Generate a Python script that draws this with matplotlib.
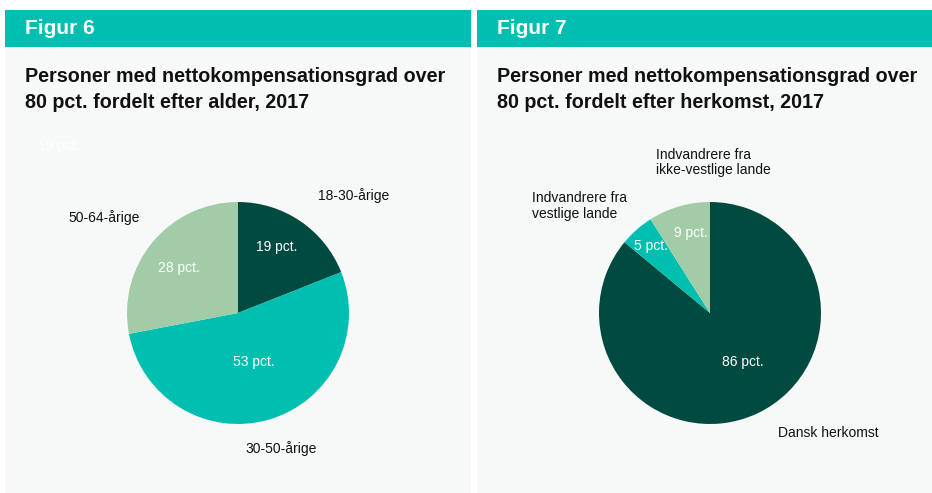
import matplotlib
matplotlib.use("Agg")
import matplotlib.pyplot as plt
from matplotlib.patches import Rectangle

plt.rcParams['font.family'] = ['Liberation Sans', 'DejaVu Sans']

# Data
age_labels = ["18-30-årige", "30-50-årige", "50-64-årige"]
age_values = [19, 53, 28]
origin_labels = ["Dansk herkomst", "Indvandrere fra\nvestlige lande", "Indvandrere fra\nikke-vestlige lande"]
origin_values = [86, 5, 9]
headers = ["Figur 6", "Figur 7"]
titles = ["Personer med nettokompensationsgrad over\n80 pct. fordelt efter alder, 2017",
          "Personer med nettokompensationsgrad over\n80 pct. fordelt efter herkomst, 2017"]

DARK = "#004A40"
TEAL = "#00BFB0"
LIGHT = "#A2CCA7"
BG = "#F7F9F8"

W, H = 932, 493
fig = plt.figure(figsize=(W / 100, H / 100), dpi=100)
fig.patch.set_facecolor("white")
ax = fig.add_axes([0, 0, 1, 1])

def Y(y):  # image y (top-down) -> data y
    return H - y

# Panels
for x0, x1, hdr, ttl in [(5, 471, headers[0], titles[0]), (477, 932, headers[1], titles[1])]:
    ax.add_patch(Rectangle((x0, 0), x1 - x0, Y(47), facecolor=BG, edgecolor="none", zorder=0))
    ax.add_patch(Rectangle((x0, Y(47)), x1 - x0, 37, facecolor=TEAL, edgecolor="none", zorder=0))
    ax.text(x0 + 20, Y(28.5), hdr, color="white", fontsize=15, fontweight="bold",
            ha="left", va="center")
    for i, line in enumerate(ttl.split("\n")):
        ax.text(x0 + 20, Y(82.5 + 25.5 * i), line, color="#111111", fontsize=14.2,
                fontweight="bold", ha="left", va="baseline")

colors = [DARK, TEAL, LIGHT]
R = 111

# Left pie
ax.pie(age_values, colors=colors, startangle=90, counterclock=False,
       center=(238, Y(313)), radius=R, frame=True,
       wedgeprops=dict(linewidth=0))
# Right pie
ax.pie(origin_values, colors=colors, startangle=90, counterclock=False,
       center=(710, Y(313)), radius=R, frame=True,
       wedgeprops=dict(linewidth=0))

ax.set_xlim(0, W)
ax.set_ylim(0, H)
ax.set_aspect("auto")
ax.axis("off")

fs = 10
# Left labels
ax.text(318, Y(196), age_labels[0], fontsize=fs, color="#111111", ha="left", va="center")
ax.text(245, Y(449), age_labels[1], fontsize=fs, color="#111111", ha="left", va="center")
ax.text(68, Y(218), age_labels[2], fontsize=fs, color="#111111", ha="left", va="center")
ax.text(277, Y(247), f"{age_values[0]} pct.", fontsize=fs, color="white", ha="center", va="center")
ax.text(254, Y(362), f"{age_values[1]} pct.", fontsize=fs, color="white", ha="center", va="center")
ax.text(179, Y(268), f"{age_values[2]} pct.", fontsize=fs, color="white", ha="center", va="center")
ax.text(38, Y(146), f"{age_values[0]} pct.", fontsize=fs, color="white", ha="left", va="center")

# Right labels
ax.text(778, Y(433), origin_labels[0], fontsize=fs, color="#111111", ha="left", va="center")
ax.text(532, Y(206), origin_labels[1], fontsize=fs, color="#111111", ha="left", va="center",
        linespacing=1.15)
ax.text(656, Y(162.5), origin_labels[2], fontsize=fs, color="#111111", ha="left", va="center",
        linespacing=1.15)
ax.text(743, Y(362), f"{origin_values[0]} pct.", fontsize=fs, color="white", ha="center", va="center")
ax.text(651, Y(246), f"{origin_values[1]} pct.", fontsize=fs, color="white", ha="center", va="center")
ax.text(691, Y(233), f"{origin_values[2]} pct.", fontsize=fs, color="white", ha="center", va="center")

fig.savefig("out.png", dpi=100, facecolor="white")
